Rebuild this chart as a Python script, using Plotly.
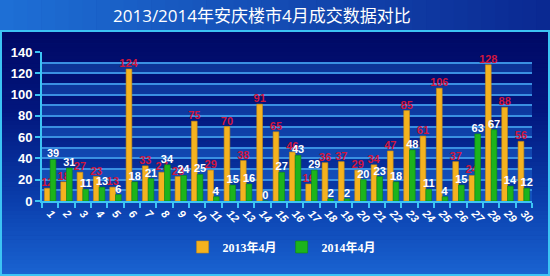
import plotly.graph_objects as go

days = [str(i) for i in range(1, 31)]
sales_2013 = [12, 18, 27, 23, 13, 124, 33, 27, 23, 75, 29, 70, 38, 91, 65,
              46, 16, 36, 37, 29, 34, 47, 85, 61, 106, 37, 24, 128, 88, 56]
sales_2014 = [39, 31, 11, 13, 6, 18, 21, 34, 24, 25, 4, 15, 16, 0, 27,
              43, 29, 2, 2, 20, 23, 18, 48, 11, 4, 15, 63, 67, 14, 12]
series_names = ["2013年4月", "2014年4月"]
title_text = "2013/2014年安庆楼市4月成交数据对比"

W, H = 550, 276
L, R, T, B = 42, 532, 52, 201   # plot area in pixels

def px_x(p):
    return (p - L) / (R - L)

def px_y(p):
    return (B - p) / (B - T)

def lerp(c1, c2, t):
    return tuple(int(round(a + (b - a) * t)) for a, b in zip(c1, c2))

def grad(stops, t):
    for i in range(len(stops) - 1):
        t0, c0 = stops[i]
        t1, c1 = stops[i + 1]
        if t <= t1:
            return lerp(c0, c1, (t - t0) / (t1 - t0) if t1 > t0 else 0)
    return stops[-1][1]

shapes = []
# main panel vertical gradient
stops = [(31, (0, 8, 100)), (110, (2, 22, 125)), (200, (10, 62, 172)), (276, (26, 100, 210))]
n = 60
for i in range(n):
    y0 = 31 + (276 - 31) * i / n
    y1 = 31 + (276 - 31) * (i + 1) / n + 0.6
    c = grad(stops, (y0 + y1) / 2)
    shapes.append(dict(type="rect", xref="paper", yref="paper", layer="below",
                       x0=px_x(0), x1=px_x(W), y0=px_y(y1), y1=px_y(y0),
                       line=dict(width=0), fillcolor="rgb(%d,%d,%d)" % c))
# title bar horizontal gradient
tstops = [(0, (30, 112, 214)), (550, (10, 40, 145))]
n = 40
for i in range(n):
    x0 = W * i / n
    x1 = W * (i + 1) / n + 0.6
    c = grad(tstops, (x0 + x1) / 2)
    shapes.append(dict(type="rect", xref="paper", yref="paper", layer="below",
                       x0=px_x(x0), x1=px_x(x1), y0=px_y(31), y1=px_y(0),
                       line=dict(width=0), fillcolor="rgb(%d,%d,%d)" % c))
# alternating bands in plot
for k in range(0, 140, 20):
    shapes.append(dict(type="rect", xref="paper", yref="y", layer="below",
                       x0=0, x1=1, y0=k, y1=k + 10, line=dict(width=0),
                       fillcolor="rgba(40,130,235,0.33)"))
# panel border
shapes.append(dict(type="rect", xref="paper", yref="paper", layer="above",
                   x0=px_x(1), x1=px_x(549), y0=px_y(275), y1=px_y(31),
                   line=dict(color="#3cc4f4", width=2), fillcolor="rgba(0,0,0,0)"))

fig = go.Figure()
fig.add_trace(go.Bar(
    x=days, y=sales_2013, name=series_names[0],
    marker=dict(color="#f4b21f", line=dict(color="#c98a12", width=0.6)),
    text=sales_2013, textposition="outside", constraintext="none", cliponaxis=False,
    textfont=dict(family="Liberation Sans, Arial", size=11, color="#d0163e", weight="bold"),
))
fig.add_trace(go.Bar(
    x=days, y=sales_2014, name=series_names[1],
    marker=dict(color="#1cb41c", line=dict(color="#0f8a0f", width=0.6)),
    text=sales_2014, textposition="outside", constraintext="none", cliponaxis=False,
    textfont=dict(family="Liberation Sans, Arial", size=11, color="white", weight="bold"),
))

fig.update_layout(
    width=W, height=H,
    margin=dict(l=L, r=W - R, t=T, b=H - B, pad=0),
    paper_bgcolor="#0a2a8a", plot_bgcolor="rgba(0,0,0,0)",
    barmode="group", bargap=0.3, bargroupgap=0.0,
    showlegend=True,
    legend=dict(orientation="h", x=0.49, xanchor="center", y=px_y(247), yanchor="middle",
                font=dict(family="Liberation Serif, Noto Sans CJK SC", size=12, color="white", weight="bold"),
                bgcolor="rgba(0,0,0,0)", itemwidth=30, traceorder="normal"),
    shapes=shapes,
    annotations=[dict(text=title_text, xref="paper", yref="paper", x=px_x(262), y=px_y(15),
                      xanchor="center", yanchor="middle", showarrow=False,
                      font=dict(family="Open Sans, Noto Sans CJK SC", size=17, color="white"))],
)
fig.update_xaxes(
    type="category", showgrid=False, showline=True, linecolor="#3cc4f4", linewidth=2,
    ticks="outside", tickson="boundaries", ticklen=5, tickwidth=2, tickcolor="#3cc4f4",
    tickangle=45, tickfont=dict(family="Liberation Sans, Arial", size=11, color="white",
                                style="italic", weight="bold"),
    zeroline=False,
)
fig.update_yaxes(
    range=[0, 140], dtick=20, showgrid=True, gridcolor="#3a90e2", gridwidth=1.6,
    minor=dict(dtick=10, showgrid=True, gridcolor="#3a90e2", gridwidth=1.6),
    showline=True, linecolor="#3cc4f4", linewidth=2,
    ticks="outside", ticklen=5, tickwidth=2, tickcolor="#3cc4f4",
    tickfont=dict(family="Liberation Sans, Arial", size=13, color="white", weight="bold"),
    zeroline=False,
)

fig.write_html("out.html")
